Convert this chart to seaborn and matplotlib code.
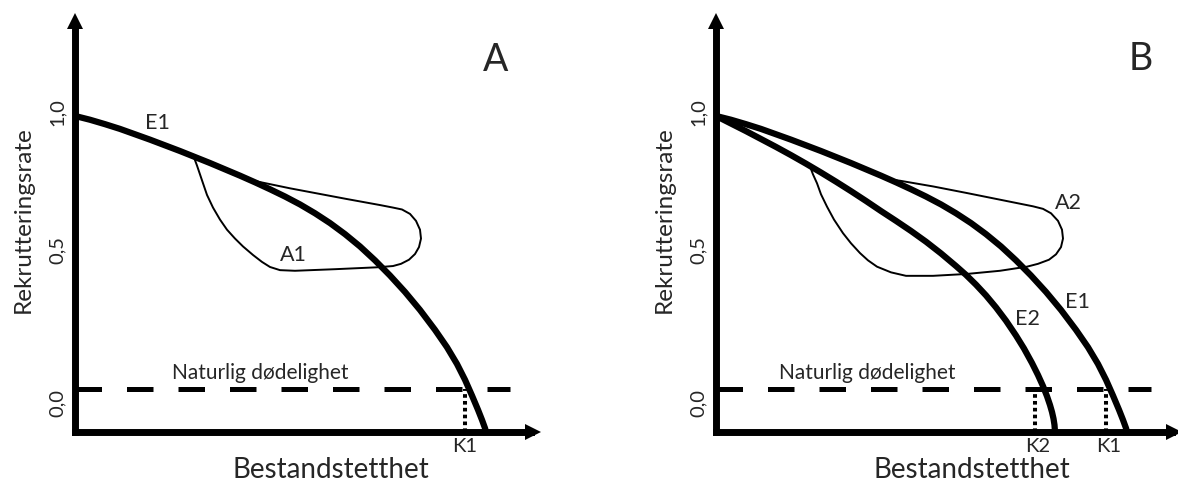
import matplotlib.pyplot as plt
import seaborn as sns

# ---------------------------------------------------------------------------
# Values
# x = bestandstetthet (arbitrary units), y = rekrutteringsrate
# ---------------------------------------------------------------------------
e1_x = [0.0, 0.15, 0.3, 0.45, 0.6, 0.75, 0.9, 1.05, 1.2, 1.35, 1.5, 1.65, 1.8, 1.95, 2.1,
        2.25, 2.4, 2.55, 2.7, 2.85, 3.0, 3.15, 3.3, 3.45, 3.6, 3.72, 3.82, 3.9, 3.97, 4.03, 4.07, 4.10, 4.11]
e1_y = [1.0, 0.988, 0.974, 0.959, 0.942, 0.925, 0.907, 0.889, 0.870, 0.851, 0.831, 0.811, 0.790, 0.768, 0.745,
        0.720, 0.692, 0.661, 0.626, 0.587, 0.543, 0.495, 0.443, 0.386, 0.323, 0.268, 0.215, 0.165, 0.115, 0.070, 0.038, 0.012, 0.0]

e2_x = [0.0, 0.15, 0.3, 0.45, 0.6, 0.75, 0.9, 1.05, 1.2, 1.35, 1.5, 1.65, 1.8, 1.95, 2.1,
        2.25, 2.4, 2.5, 2.6, 2.7, 2.8, 2.9, 3.0, 3.08, 3.16, 3.22, 3.27, 3.31, 3.34, 3.36, 3.375, 3.385, 3.39]
e2_y = [1.0, 0.976, 0.952, 0.927, 0.902, 0.876, 0.849, 0.821, 0.792, 0.762, 0.731, 0.699, 0.668, 0.636, 0.602,
        0.565, 0.525, 0.497, 0.466, 0.432, 0.394, 0.352, 0.305, 0.264, 0.218, 0.180, 0.145, 0.113, 0.085, 0.063, 0.042, 0.022, 0.0]

# loop A1 (panel A), starts on E1, runs right, round, back left, up to E1
a1_x = [1.74, 2.15, 2.72, 3.05, 3.18, 3.27, 3.35, 3.41, 3.45, 3.46, 3.44, 3.40, 3.34, 3.26, 3.18,
        3.02, 2.60, 2.20, 2.05, 1.95, 1.87, 1.78, 1.68, 1.60, 1.52, 1.45, 1.38, 1.32, 1.28, 1.25, 1.22, 1.18]
a1_y = [0.798, 0.771, 0.737, 0.718, 0.710, 0.704, 0.690, 0.668, 0.640, 0.612, 0.585, 0.563, 0.545, 0.532, 0.525,
        0.521, 0.515, 0.510, 0.512, 0.522, 0.538, 0.560, 0.587, 0.612, 0.640, 0.672, 0.710, 0.750, 0.787, 0.815, 0.843, 0.877]

# loop A2 (panel B), starts on E1, ends on E2
a2_x = [1.72, 1.84, 2.17, 2.51, 2.84, 3.17, 3.27, 3.35, 3.42, 3.46, 3.47, 3.45, 3.40, 3.33, 3.22, 3.11,
        2.84, 2.51, 2.17, 1.90, 1.75, 1.61, 1.52, 1.44, 1.35, 1.27, 1.18, 1.11, 1.05, 1.01, 0.97, 0.94]
a2_y = [0.800, 0.795, 0.777, 0.756, 0.735, 0.714, 0.706, 0.692, 0.668, 0.640, 0.612, 0.585, 0.562, 0.545, 0.532, 0.523,
        0.510, 0.500, 0.494, 0.494, 0.505, 0.523, 0.543, 0.566, 0.597, 0.629, 0.672, 0.713, 0.752, 0.787, 0.815, 0.840]

natural_mortality = 0.136
k1 = 3.90
k2 = 3.19

ytick_labels = ['1,0', '0,5', '0,0']
ytick_pos = [1.013, 0.576, 0.092]

# ---------------------------------------------------------------------------
sns.set_theme(style='white')
plt.rcParams['font.family'] = ['Lato', 'DejaVu Sans']

fig = plt.figure(figsize=(11.78, 4.91), dpi=100)
ax_a = fig.add_axes([0, 0, 0.5, 1])
ax_b = fig.add_axes([0.5, 0, 0.5, 1])

thick = dict(color='black', lw=4.5, sort=False, estimator=None,
             solid_joinstyle='round', solid_capstyle='butt')
thin = dict(color='black', lw=1.4, sort=False, estimator=None, solid_joinstyle='round')

for ax, left in ((ax_a, -0.75), (ax_b, -1.27)):
    ax.set_xlim(left, left + 5.89)
    ax.set_ylim(-0.187, 1.367)
    ax.axis('off')

    # axes with arrow heads
    ax.plot([0, 4.56], [0, 0], color='black', lw=5, solid_capstyle='projecting', clip_on=False)
    ax.plot([0, 0], [0, 1.29], color='black', lw=5, solid_capstyle='projecting', clip_on=False)
    ax.plot(4.584, 0, marker='>', ms=11, mew=0, color='black', clip_on=False)
    ax.plot(0, 1.302, marker='^', ms=11, mew=0, color='black', clip_on=False)

    # natural mortality
    ax.plot([0, 4.35], [natural_mortality] * 2, color='black', lw=3.6, dashes=(5.3, 5.0))

    # E1 curve is shared by both panels
    sns.lineplot(x=e1_x, y=e1_y, ax=ax, **thick)

    for i, lab in enumerate(ytick_labels):
        ax.text(-0.18, ytick_pos[i], lab, rotation=90, ha='center', va='center', fontsize=14.5)
    ax.text(-0.52, 0.671, 'Rekrutteringsrate', rotation=90, ha='center', va='center', fontsize=17.5)
    ax.text(2.56, -0.12, 'Bestandstetthet', ha='center', va='center', fontsize=20)

# ---- panel A --------------------------------------------------------------
sns.lineplot(x=a1_x, y=a1_y, ax=ax_a, **thin)
ax_a.plot([k1, k1], [0, natural_mortality], color='black', lw=2.9, dashes=(0.9, 0.8))
ax_a.text(4.21, 1.177, 'A', ha='center', va='center', fontsize=27)
ax_a.text(0.82, 0.978, 'E1', ha='center', va='center', fontsize=15.5)
ax_a.text(2.18, 0.560, 'A1', ha='center', va='center', fontsize=15.5)
ax_a.text(1.85, 0.187, 'Naturlig dødelighet', ha='center', va='center', fontsize=15)
ax_a.text(k1, -0.047, 'K1', ha='center', va='center', fontsize=14.5)

# ---- panel B --------------------------------------------------------------
sns.lineplot(x=e2_x, y=e2_y, ax=ax_b, **thick)
sns.lineplot(x=a2_x, y=a2_y, ax=ax_b, **thin)
for k, name in ((k2, 'K2'), (k1, 'K1')):
    ax_b.plot([k, k], [0, natural_mortality], color='black', lw=2.9, dashes=(0.9, 0.8))
    ax_b.text(k + 0.03, -0.047, name, ha='center', va='center', fontsize=14.5)
ax_b.text(4.25, 1.180, 'B', ha='center', va='center', fontsize=27)
ax_b.text(3.52, 0.725, 'A2', ha='center', va='center', fontsize=15.5)
ax_b.text(3.61, 0.411, 'E1', ha='center', va='center', fontsize=15.5)
ax_b.text(3.11, 0.358, 'E2', ha='center', va='center', fontsize=15.5)
ax_b.text(1.51, 0.187, 'Naturlig dødelighet', ha='center', va='center', fontsize=15)

fig.savefig('out.png', dpi=100)
